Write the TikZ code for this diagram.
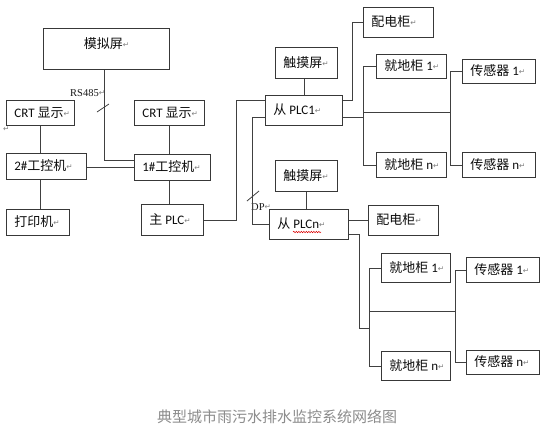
\documentclass[tikz,border=0pt]{standalone}
\usepackage{fontspec}
\setmainfont{Carlito}
\newfontfamily\cjk{Noto Sans CJK SC}
\newfontfamily\dejavu{DejaVu Sans}
\newfontfamily\tnr{Liberation Serif}
\usetikzlibrary{decorations.pathmorphing}
\newcommand\retmark{\raisebox{1pt}{\dejavu\fontsize{7.5}{8}\selectfont\color{black!50}↵}}
\tikzset{
  bx/.style={draw=black!78, line width=0.8pt, anchor=north west, inner xsep=8pt, inner ysep=0pt,
    text height=10.5pt, text depth=1.5pt, font=\fontsize{13}{15}\selectfont, text=black!95},
  ln/.style={draw=black!75, line width=0.8pt},
  lbl/.style={font=\tnr\fontsize{10.5}{12}\selectfont, text=black!90, inner sep=0pt, anchor=west},
}
\newcommand\boxnode[6]{\node[bx, minimum width=#4pt, minimum height=#5pt] (#1) at (#2,#3) {\makebox[\dimexpr#4pt-16pt\relax][l]{#6}};}
\begin{document}
\begin{tikzpicture}[x=1pt, y=-1pt]
\useasboundingbox[fill=white] (0,0) rectangle (553,440);

% left part
\node[bx, minimum width=126pt, minimum height=41pt, text depth=11.7pt] (sim) at (43,28) {{\cjk 模拟屏}\retmark};
\boxnode{crtL}{6}{100}{68}{25}{CRT {\cjk 显示}\retmark}
\boxnode{crtR}{134}{100}{70}{25}{CRT {\cjk 显示}\retmark}
\boxnode{pc2}{6}{153}{80}{26}{2\#{\cjk 工控机}\retmark}
\boxnode{pc1}{134}{154}{76}{26}{1\#{\cjk 工控机}\retmark}
\boxnode{prn}{6}{209}{63}{26}{{\cjk 打印机}\retmark}
\boxnode{mplc}{141}{204}{62}{31}{{\cjk 主} PLC\retmark}
\node[inner sep=0pt, anchor=west] (stray) at (3,130) {\retmark};

% upper slave
\boxnode{tch1}{275}{47}{62}{31}{{\cjk 触摸屏}\retmark}
\boxnode{plc1}{265}{95}{77}{30}{{\cjk 从} PLC1\retmark}
\boxnode{pd1}{363}{7}{70}{30}{{\cjk 配电柜}\retmark}
\boxnode{jd11}{376}{54}{70}{24}{{\cjk 就地柜} 1\retmark}
\boxnode{jd1n}{376}{152}{70}{25}{{\cjk 就地柜} n\retmark}
\boxnode{cg11}{462}{59}{73}{24}{{\cjk 传感器} 1\retmark}
\boxnode{cg1n}{462}{152}{73}{25}{{\cjk 传感器} n\retmark}

% lower slave
\boxnode{tch2}{275}{160}{62}{31}{{\cjk 触摸屏}\retmark}
\boxnode{plcn}{269}{209}{79}{30}{{\cjk 从} PLCn\retmark}
\boxnode{pd2}{368}{205}{70}{30}{{\cjk 配电柜}\retmark}
\boxnode{jd21}{381}{253}{69}{29}{{\cjk 就地柜} 1\retmark}
\boxnode{jd2n}{381}{351}{69}{29}{{\cjk 就地柜} n\retmark}
\boxnode{cg21}{466}{257}{73}{25}{{\cjk 传感器} 1\retmark}
\boxnode{cg2n}{466}{350}{73}{24}{{\cjk 传感器} n\retmark}

% labels
\node[lbl] (rs) at (70,93) {RS485\retmark};
\node[lbl] (dp) at (251,207) {DP\retmark};
\node[font=\cjk\fontsize{15}{17}\selectfont, text=black!45] (cap) at (277,417) {典型城市雨污水排水监控系统网络图};

% connectors left
\draw[ln] ([xshift=-2pt]sim.south) |- ([yshift=7pt]pc1.west);
\draw[ln] (97,112) -- (109,104);
\draw[ln] (crtL.south) -- (crtL.south |- pc2.north);
\draw[ln] (crtR.south) -- (crtR.south |- pc1.north);
\draw[ln] (pc1.west -| pc2.east) -- (pc1.west);
\draw[ln] (crtL.south |- pc2.south) -- (crtL.south |- prn.north);
\draw[ln] (crtR.south |- pc1.south) -- (crtR.south |- mplc.north);
\draw[ln] (mplc.east) -- ++(33,0) |- ([yshift=10pt]plc1.west);
\draw[ln] ([yshift=-7pt]plc1.west) -- ++(-13,0) |- (plcn.west);
\draw[ln] (247,201) -- (259,191);
\draw[ln] (plc1.north) -- (plc1.north |- tch1.south);
\draw[ln] (tch2.south) -- (tch2.south |- plcn.north);

% upper group
\draw[ln] ([yshift=10pt]plc1.east) -- ++(10,0) |- (pd1.west);
\draw[ln] (jd11.west) -- ++(-13,0) coordinate (b1t) -- (b1t |- jd1n.west) -- (jd1n.west);
\draw[ln] ([yshift=-7pt]plc1.east) -- ++(21,0);
\draw[ln] (cg11.west) -- ++(-12,0) coordinate (s1t) -- (s1t |- cg1n.west) -- (cg1n.west);
\draw[ln] (b1t |- 0,112) -- (s1t |- 0,112);

% lower group
\draw[ln] (pd2.west -| plcn.east) -- (pd2.west);
\draw[ln] (jd21.west) -- ++(-12,0) coordinate (b2t) -- (b2t |- jd2n.west) -- (jd2n.west);
\draw[ln] ([yshift=-10pt]plcn.east) -- ++(11,0) |- (b2t |- 0,328);
\draw[ln] (cg21.west) -- ++(-11,0) coordinate (s2t) -- (s2t |- cg2n.west) -- (cg2n.west);
\draw[ln] (b2t |- 0,311) -- (s2t |- 0,311);

% spell-check underline
\draw[red!85!black, line width=0.5pt, decorate, decoration={snake, amplitude=0.7pt, segment length=2.5pt}] (293,232) -- (321,232);
\end{tikzpicture}
\end{document}
